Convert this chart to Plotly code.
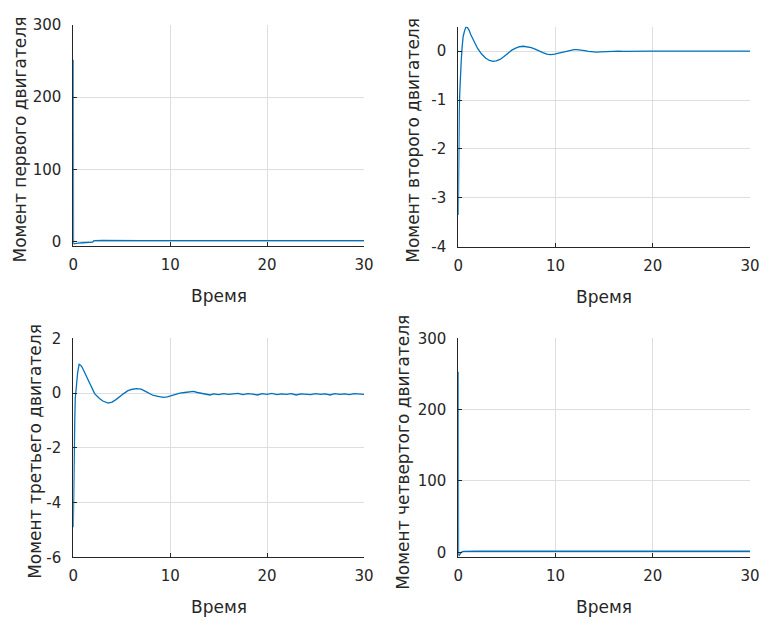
import plotly.graph_objects as go

# ---------------- data ----------------
t1 = [0, 0.003, 0.006, 0.01, 0.02, 0.05, 0.2, 0.5, 1, 1.5, 2, 2.1, 2.3, 3, 4, 5, 6,
      6.2, 6.6, 7, 8, 10, 12, 15, 18, 20, 22, 25, 28, 30]
v1 = [228, 252, 140, 30, -2, -3, -2.5, -2, -1.5, -1, -0.8, 1.0, 1.5, 1.6, 1.5, 1.5, 1.4,
      0.5, 0.6, 1.4, 1.5, 1.5, 1.4, 1.5, 1.5, 1.5, 1.5, 1.5, 1.5, 1.5]

t2 = [0, 0.02, 0.05, 0.1, 0.15, 0.2, 0.3, 0.4, 0.5, 0.65, 0.8, 0.95, 1.1, 1.3, 1.6, 2.0,
      2.4, 2.8, 3.2, 3.6, 3.9, 4.3, 4.7, 5.1, 5.5, 5.9, 6.3, 6.7, 7.1, 7.5, 7.9, 8.3,
      8.7, 9.1, 9.5, 9.9, 10.3, 10.7, 11.1, 11.5, 11.9, 12.2, 12.6, 13.0, 13.4, 13.8,
      14.2, 14.6, 15.0, 15.5, 16.0, 16.5, 17.0, 18, 20, 22, 25, 28, 30]
v2 = [-3.35, -2.6, -1.8, -1.2, -0.85, -0.55, -0.2, 0.1, 0.3, 0.42, 0.5, 0.48, 0.43, 0.33,
      0.2, 0.05, -0.06, -0.14, -0.19, -0.21, -0.2, -0.17, -0.11, -0.04, 0.02, 0.06, 0.09,
      0.1, 0.09, 0.07, 0.04, 0.0, -0.03, -0.06, -0.07, -0.06, -0.04, -0.02, 0.0, 0.02,
      0.03, 0.03, 0.025, 0.01, -0.005, -0.015, -0.02, -0.015, -0.01, -0.005, -0.01, 0.0,
      -0.005, 0.0, 0.0, 0.0, 0.0, 0.0, 0.0]

t3 = [0, 0.03, 0.06, 0.1, 0.15, 0.2, 0.3, 0.45, 0.6, 0.75, 0.9, 1.1, 1.4, 1.8, 2.2, 2.7,
      3.1, 3.6, 4.0, 4.4, 4.8, 5.2, 5.6, 6.0, 6.5, 7.0, 7.4, 7.8, 8.2, 8.6, 9.0, 9.3,
      9.7, 10.1, 10.5, 11.0, 11.5, 12.0, 12.4, 12.8, 13.2, 13.6, 14.1,
      14.5, 15.0, 15.5, 16.0, 16.5, 17.0, 17.5, 18.0, 18.5, 19.0, 19.5, 20.0, 20.5,
      21.0, 21.5, 22.0, 22.5, 23.0, 23.5, 24.0, 24.5, 25.0, 25.5, 26.0, 26.5, 27.0,
      27.5, 28.0, 28.5, 29.0, 29.5, 30.0]
v3 = [-4.9, -3.6, -2.6, -1.95, -1.0, -0.2, 0.3, 0.75, 1.05, 1.02, 0.95, 0.8, 0.55, 0.25,
      -0.02, -0.2, -0.3, -0.37, -0.33, -0.24, -0.12, -0.02, 0.08, 0.13, 0.16, 0.14, 0.07,
      -0.02, -0.08, -0.11, -0.15, -0.16, -0.14, -0.1, -0.05, 0.0, 0.02, 0.05, 0.06,
      0.02, -0.01, -0.04, -0.07,
      -0.03, -0.06, -0.02, -0.05, -0.03, -0.01, -0.06, -0.02, -0.04, -0.07, -0.02,
      -0.05, -0.01, -0.06, -0.03, -0.05, -0.02, -0.07, -0.03, -0.04, -0.06, -0.02,
      -0.05, -0.03, -0.07, -0.02, -0.05, -0.03, -0.06, -0.02, -0.04, -0.05]

t4 = [0, 0.003, 0.006, 0.01, 0.02, 0.05, 0.1, 0.2, 0.3, 0.5, 1, 2, 5, 10, 15, 20, 25, 30]
v4 = [232, 253, 140, 30, -3, -5, -4, -2, 0, 1.2, 1.5, 1.5, 1.5, 1.4, 1.5, 1.5, 1.5, 1.5]

y_titles = ["Момент первого двигателя", "Момент второго двигателя",
            "Момент третьего двигателя", "Момент четвертого двигателя"]
x_title = "Время"
x_ticks = [0, 10, 20, 30]
y_ticks = [[0, 100, 200, 300], [-4, -3, -2, -1, 0], [-6, -4, -2, 0, 2], [0, 100, 200, 300]]
y_ranges = [[-6, 300], [-4, 0.5], [-6, 2], [-7, 300]]

# ---------------- layout ----------------
W, H = 763, 619
LINE = "#0072BD"
AX = "#262626"
GRID = "#dedede"
FONT = "DejaVu Sans, Liberation Sans, Arial, sans-serif"

# plot boxes in pixels: (x0, x1, ytop, ybottom)
boxes = [(73.3, 364, 25, 246), (458.3, 750, 26.7, 246.7),
         (73.3, 364, 338.3, 557.3), (458.3, 750, 338.3, 557.3)]
ytitle_x = [19, 413, 35, 403]

fig = go.Figure()
series = [(t1, v1), (t2, v2), (t3, v3), (t4, v4)]
annotations = []
for i, ((t, v), (x0, x1, yt, yb)) in enumerate(zip(series, boxes)):
    n = "" if i == 0 else str(i + 1)
    fig.add_trace(go.Scatter(x=t, y=v, mode="lines", line=dict(color=LINE, width=1.3),
                             xaxis="x" + n, yaxis="y" + n, showlegend=False))
    common = dict(showline=True, linecolor=AX, linewidth=1, showgrid=True,
                  gridcolor=GRID, gridwidth=1, zeroline=False, ticks="inside",
                  ticklen=4, tickcolor=AX, automargin=False,
                  tickfont=dict(family=FONT, size=15, color=AX))
    fig.update_layout(**{
        "xaxis" + n: dict(domain=[x0 / W, x1 / W], range=[0, 30], tickvals=x_ticks,
                          ticktext=[str(k) for k in x_ticks],
                          anchor="y" + n, ticklabelstandoff=5, **common),
        "yaxis" + n: dict(domain=[1 - yb / H, 1 - yt / H], range=y_ranges[i],
                          tickvals=y_ticks[i], ticktext=[str(k) for k in y_ticks[i]],
                          anchor="x" + n, ticklabelstandoff=8, **common),
    })
    annotations.append(dict(text=x_title, xref="paper", yref="paper",
                            x=(x0 + x1) / 2 / W, y=1 - (yb + 50) / H, showarrow=False,
                            xanchor="center", yanchor="middle",
                            font=dict(family=FONT, size=17, color=AX)))
    annotations.append(dict(text=y_titles[i], xref="paper", yref="paper",
                            x=ytitle_x[i] / W, y=1 - ((yt + yb) / 2 + 4) / H,
                            showarrow=False, textangle=-90, xanchor="center",
                            yanchor="middle", font=dict(family=FONT, size=17, color=AX)))

fig.update_layout(width=W, height=H, margin=dict(l=0, r=0, t=0, b=0),
                  paper_bgcolor="white", plot_bgcolor="white",
                  annotations=annotations)
fig.write_html("out.html", config={"displayModeBar": False},
               post_script="document.body.style.margin='0px';")
